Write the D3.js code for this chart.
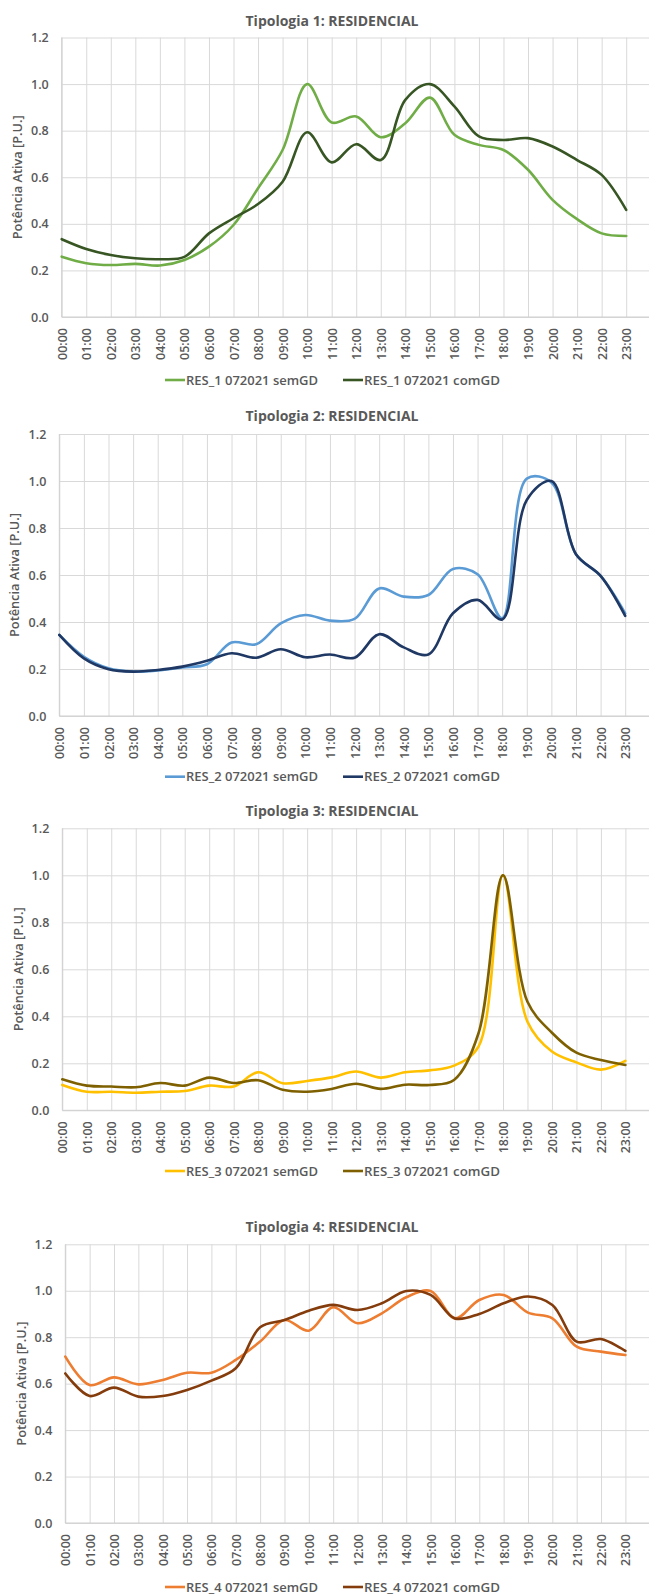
<!DOCTYPE html>
<html>
<head>
<meta charset="utf-8">
<script src="https://cdn.jsdelivr.net/npm/d3@7/dist/d3.min.js"></script>
<style>
  html, body { margin: 0; padding: 0; background: #ffffff; }
  svg { display: block; }
  text { font-family: "Open Sans", "Liberation Sans", sans-serif; fill: #595959; }
</style>
</head>
<body>
<svg id="chart" width="649" height="1595"></svg>
<script>
// Hourly tick labels shared by the four panels
const hourLabels = ["00:00","01:00","02:00","03:00","04:00","05:00","06:00","07:00",
  "08:00","09:00","10:00","11:00","12:00","13:00","14:00","15:00",
  "16:00","17:00","18:00","19:00","20:00","21:00","22:00","23:00"];
const yTicks = [0, 0.2, 0.4, 0.6, 0.8, 1.0, 1.2];

const titles = ["Tipologia 1: RESIDENCIAL", "Tipologia 2: RESIDENCIAL",
  "Tipologia 3: RESIDENCIAL", "Tipologia 4: RESIDENCIAL"];
const seriesNames = [
  ["RES_1 072021 semGD", "RES_1 072021 comGD"],
  ["RES_2 072021 semGD", "RES_2 072021 comGD"],
  ["RES_3 072021 semGD", "RES_3 072021 comGD"],
  ["RES_4 072021 semGD", "RES_4 072021 comGD"]
];

// Active power per unit, one value per hour
const res1Sem = [0.259,0.231,0.223,0.228,0.221,0.245,0.302,0.395,0.553,0.717,1.000,0.835,
                 0.861,0.772,0.832,0.942,0.782,0.739,0.717,0.632,0.503,0.420,0.359,0.348];
const res1Com = [0.334,0.292,0.266,0.252,0.248,0.258,0.359,0.424,0.485,0.581,0.793,0.664,
                 0.742,0.674,0.932,1.000,0.904,0.775,0.760,0.768,0.732,0.674,0.610,0.460];
const res2Sem = [0.345,0.252,0.203,0.189,0.194,0.207,0.220,0.313,0.305,0.394,0.430,0.406,
                 0.413,0.543,0.508,0.515,0.626,0.603,0.416,1.010,0.994,0.688,0.596,0.437];
const res2Com = [0.345,0.245,0.199,0.189,0.196,0.210,0.235,0.267,0.248,0.284,0.250,0.262,
                 0.248,0.348,0.292,0.262,0.437,0.494,0.411,0.919,1.000,0.688,0.596,0.426];
const res3Sem = [0.108,0.079,0.079,0.075,0.079,0.082,0.105,0.101,0.162,0.115,0.125,0.140,
                 0.165,0.139,0.162,0.170,0.190,0.271,1.000,0.377,0.250,0.204,0.173,0.210];
const res3Com = [0.132,0.105,0.101,0.098,0.116,0.105,0.139,0.116,0.128,0.087,0.079,0.091,
                 0.113,0.091,0.109,0.108,0.129,0.328,1.000,0.462,0.330,0.245,0.214,0.193];
const res4Sem = [0.716,0.594,0.627,0.597,0.616,0.647,0.647,0.702,0.781,0.874,0.828,0.929,
                 0.860,0.903,0.972,0.999,0.881,0.960,0.982,0.906,0.881,0.759,0.738,0.723];
const res4Com = [0.644,0.547,0.583,0.544,0.547,0.573,0.613,0.666,0.843,0.874,0.914,0.939,
                 0.917,0.946,0.999,0.982,0.881,0.900,0.946,0.975,0.939,0.781,0.792,0.741];

const seriesData = [[res1Sem, res1Com], [res2Sem, res2Com], [res3Sem, res3Com], [res4Sem, res4Com]];
const seriesColors = [["#70AD47", "#375623"], ["#5B9BD5", "#1F3864"],
                      ["#FFC000", "#7F6000"], ["#ED7D31", "#843C0C"]];

// Panel geometry
const W = 649;
const panels = [
  { left: 61.7, last: 626.2, top: 37.5,  bottom: 317,    titleY: 25.7,   legendY: 380,  yTitleX: 18 },
  { left: 59.3, last: 625.2, top: 434,   bottom: 716,    titleY: 420.9,  legendY: 776.7, yTitleX: 15 },
  { left: 62.3, last: 625.4, top: 828.3, bottom: 1110.3, titleY: 816.2,  legendY: 1171, yTitleX: 18.3 },
  { left: 65.3, last: 625.4, top: 1244.3, bottom: 1523,  titleY: 1231.8, legendY: 1587, yTitleX: 21.7 }
];

const svg = d3.select("#chart");
const gridColor = "#D9D9D9";

panels.forEach((p, i) => {
  const g = svg.append("g");
  const x = d3.scalePoint().domain(hourLabels).range([p.left, p.last]);
  const y = d3.scaleLinear().domain([0, 1.2]).range([p.bottom, p.top]);

  // horizontal gridlines + value labels
  const yAxis = g.append("g")
    .attr("transform", `translate(${p.left},0)`)
    .call(d3.axisLeft(y).tickValues(yTicks).tickFormat(d3.format(".1f"))
      .tickSize(-(W - p.left)).tickPadding(13));
  yAxis.select(".domain").remove();
  yAxis.selectAll(".tick line").attr("stroke", gridColor).attr("stroke-width", 1);
  yAxis.selectAll(".tick text")
    .style("font-size", "12.5px").style("font-weight", 600).attr("fill", "#595959");

  // vertical gridlines + rotated hour labels
  const xAxis = g.append("g")
    .attr("transform", `translate(0,${p.bottom})`)
    .call(d3.axisBottom(x).tickSize(-(p.bottom - p.top)).tickPadding(0));
  xAxis.select(".domain").remove();
  xAxis.selectAll(".tick line").attr("stroke", gridColor).attr("stroke-width", 1);
  xAxis.selectAll(".tick text")
    .attr("transform", "translate(0,11) rotate(-90)")
    .attr("text-anchor", "end")
    .attr("x", 0).attr("y", 0).attr("dy", "0.36em")
    .style("font-size", "12.5px").style("font-weight", 600).attr("fill", "#595959");

  // axis lines
  g.append("line").attr("x1", p.left).attr("x2", W).attr("y1", p.bottom).attr("y2", p.bottom)
    .attr("stroke", "#CFCFCF").attr("stroke-width", 1);
  g.append("line").attr("x1", p.left).attr("x2", p.left).attr("y1", p.top).attr("y2", p.bottom)
    .attr("stroke", "#CFCFCF").attr("stroke-width", 1);

  // smoothed series
  const line = d3.line()
    .x((d, k) => x(hourLabels[k]))
    .y(d => y(d))
    .curve(d3.curveCatmullRom.alpha(0.5));
  seriesData[i].forEach((vals, s) => {
    g.append("path").datum(vals)
      .attr("d", line)
      .attr("fill", "none")
      .attr("stroke", seriesColors[i][s])
      .attr("stroke-width", 2.6)
      .attr("stroke-linejoin", "round")
      .attr("stroke-linecap", "round");
  });

  // title
  g.append("text")
    .attr("x", 332).attr("y", p.titleY)
    .attr("text-anchor", "middle")
    .attr("textLength", 173).attr("lengthAdjust", "spacingAndGlyphs")
    .style("font-size", "14.5px").style("font-weight", 700)
    .text(titles[i]);

  // y axis title
  g.append("text")
    .attr("transform", `translate(${p.yTitleX},${(p.top + p.bottom) / 2}) rotate(-90)`)
    .attr("text-anchor", "middle").attr("dy", "0.35em")
    .attr("textLength", 124).attr("lengthAdjust", "spacingAndGlyphs")
    .style("font-size", "12px").style("font-weight", 600)
    .text("Potência Ativa [P.U.]");

  // legend
  const legendItems = [
    { x0: 165, tx: 186, tl: 132 },
    { x0: 343, tx: 364, tl: 136 }
  ];
  legendItems.forEach((it, s) => {
    g.append("line")
      .attr("x1", it.x0).attr("x2", it.x0 + 20)
      .attr("y1", p.legendY).attr("y2", p.legendY)
      .attr("stroke", seriesColors[i][s]).attr("stroke-width", 2.6);
    g.append("text")
      .attr("x", it.tx).attr("y", p.legendY).attr("dy", "0.36em")
      .attr("textLength", it.tl).attr("lengthAdjust", "spacingAndGlyphs")
      .style("font-size", "12.5px").style("font-weight", 600)
      .text(seriesNames[i][s]);
  });
});
</script>
</body>
</html>
